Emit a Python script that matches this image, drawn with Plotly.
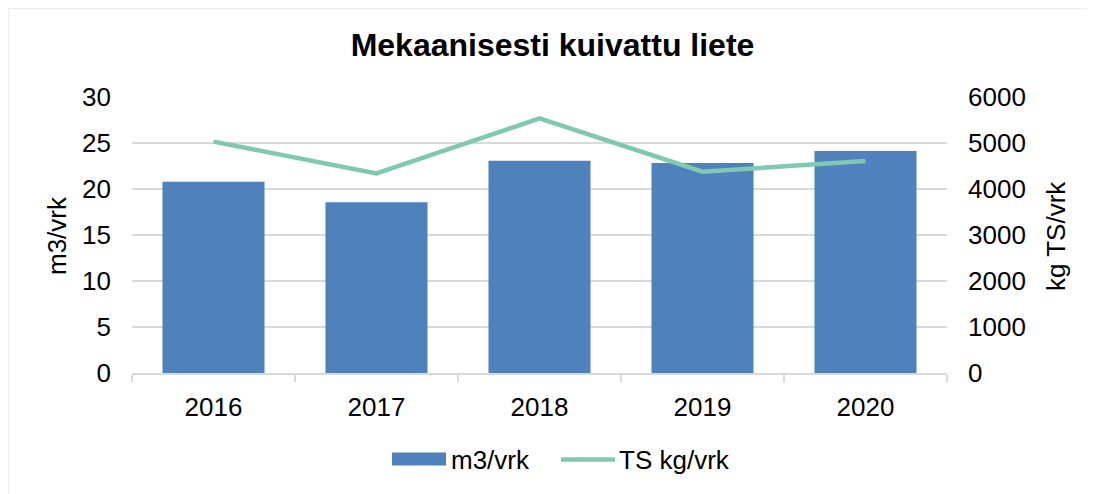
import plotly.graph_objects as go

years = ["2016", "2017", "2018", "2019", "2020"]
m3_vrk = [20.8, 18.55, 23.08, 22.83, 24.13]
ts_kg_vrk = [5030, 4340, 5535, 4375, 4610]

OFF = 8  # page body margin in the browser
W, H = 1095 - OFF, 494 - OFF
# plot area in screen pixels
SL, SR, ST, SB = 132, 947, 97, 373
L, R, T, B = SL - OFF, SR - OFF, ST - OFF, SB - OFF
FONT = "Liberation Sans, Arial, sans-serif"
BAR_C = "#4f81bd"
LINE_C = "#7fc8b1"
GRID_C = "#d9d9d9"


def px(x):
    # screen x -> paper
    return (x - SL) / (SR - SL)


def py(y):
    # screen y -> paper
    return (SB - y) / (SB - ST)


fig = go.Figure()
fig.add_trace(go.Bar(x=years, y=m3_vrk, name="m3/vrk", marker=dict(color=BAR_C, line=dict(width=0)),
                     yaxis="y", showlegend=False))
fig.add_trace(go.Scatter(x=years, y=ts_kg_vrk, name="TS kg/vrk", mode="lines",
                         line=dict(color=LINE_C, width=4.5), yaxis="y2", showlegend=False))

shapes = [
    # outer frame (left and top edges)
    dict(type="line", xref="paper", yref="paper", x0=px(8.5), x1=px(8.5), y0=py(494), y1=py(8.5),
         line=dict(color="#eeeeee", width=1.5), layer="below"),
    dict(type="line", xref="paper", yref="paper", x0=px(8.5), x1=px(1095), y0=py(8.5), y1=py(8.5),
         line=dict(color="#eeeeee", width=1.5), layer="below"),
    # legend swatches
    dict(type="rect", xref="paper", yref="paper", x0=px(392), x1=px(446), y0=py(465.5), y1=py(452.5),
         line=dict(width=0), fillcolor=BAR_C),
    dict(type="line", xref="paper", yref="paper", x0=px(561), x1=px(615), y0=py(459.5), y1=py(459.5),
         line=dict(color=LINE_C, width=4.5)),
]

annotations = [
    dict(text="m3/vrk", xref="paper", yref="paper", x=px(57), y=py(236), textangle=-90,
         showarrow=False, xanchor="center", yanchor="middle", font=dict(size=26, family=FONT, color="#000")),
    dict(text="kg TS/vrk", xref="paper", yref="paper", x=px(1056), y=py(236), textangle=-90,
         showarrow=False, xanchor="center", yanchor="middle", font=dict(size=26, family=FONT, color="#000")),
    dict(text="m3/vrk", xref="paper", yref="paper", x=px(449), y=py(459.5), showarrow=False,
         xanchor="left", yanchor="middle", font=dict(size=26, family=FONT, color="#000")),
    dict(text="TS kg/vrk", xref="paper", yref="paper", x=px(617), y=py(459.5), showarrow=False,
         xanchor="left", yanchor="middle", font=dict(size=26, family=FONT, color="#000")),
]

fig.update_layout(
    width=W, height=H,
    margin=dict(l=L, r=W - R, t=T, b=H - B, pad=0),
    paper_bgcolor="white", plot_bgcolor="white",
    font=dict(family=FONT, size=26, color="#000"),
    title=dict(text="<b>Mekaanisesti kuivattu liete</b>", font=dict(size=32, family=FONT, color="#000"),
               x=px(552.5), xref="paper", xanchor="center", y=1 - (45 - OFF) / H, yref="container",
               yanchor="middle"),
    bargap=0.374,
    showlegend=False,
    xaxis=dict(type="category", showline=True, linecolor=GRID_C, linewidth=1.5, ticks="outside",
               tickson="boundaries", ticklen=7, tickcolor=GRID_C, tickwidth=1.5, showgrid=False,
               tickfont=dict(size=26), ticklabelstandoff=10),
    yaxis=dict(range=[0, 30], dtick=5, showgrid=True, gridcolor=GRID_C, gridwidth=1.5,
               zeroline=False, showline=False, ticks="", tickfont=dict(size=26), ticklabelstandoff=20),
    yaxis2=dict(range=[0, 6000], dtick=1000, overlaying="y", side="right", showgrid=False,
                zeroline=False, showline=False, ticks="", tickfont=dict(size=26), ticklabelstandoff=20),
    shapes=shapes,
    annotations=annotations,
)

fig.write_html("out.html")
